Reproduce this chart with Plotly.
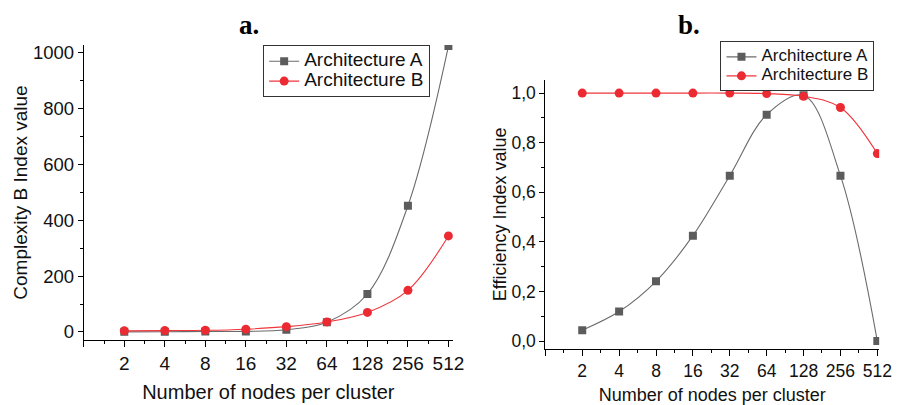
import math
import plotly.graph_objects as go

# ---- data ----
nodes = [2, 4, 8, 16, 32, 64, 128, 256, 512]
tick_labels = ["2", "4", "8", "16", "32", "64", "128", "256", "512"]

complexity_a = [0.5, 1, 1.5, 2, 8, 35, 136, 452, 1024]
complexity_b = [4, 5, 6, 10, 19, 36, 70, 149, 344]

efficiency_a = [0.044, 0.119, 0.241, 0.425, 0.667, 0.913, 0.991, 0.667, 0.0]
efficiency_b = [1.0, 1.0, 1.0, 1.0, 1.0, 0.998, 0.987, 0.942, 0.756]

name_a = "Architecture A"
name_b = "Architecture B"

GRAY_LINE = "#6b6b6b"
GRAY_MARK = "#5c5c5c"
RED_LINE = "#f0353b"
RED_MARK = "#ec2a31"
FONT = "Liberation Sans, Arial, sans-serif"
SERIF = "Liberation Serif, Times New Roman, serif"

W, H = 904, 405


def px(x):
    return x / W


def py(y):
    return 1 - y / H


def big(text, size):
    return f'<span style="font-size:{size}px">{text}</span>'


fig = go.Figure()


def add_pair(xref, yref, legend, ya_vals, yb_vals, lsize):
    fig.add_trace(go.Scatter(
        x=nodes, y=ya_vals, name=big(name_a, lsize), mode="lines+markers",
        line=dict(color=GRAY_LINE, width=1.1, shape="spline", smoothing=1.0),
        marker=dict(symbol="square", size=8, color=GRAY_MARK),
        xaxis=xref, yaxis=yref, legend=legend))
    fig.add_trace(go.Scatter(
        x=nodes, y=yb_vals, name=big(name_b, lsize), mode="lines+markers",
        line=dict(color=RED_LINE, width=1.1, shape="spline", smoothing=1.0),
        marker=dict(symbol="circle", size=9, color=RED_MARK),
        xaxis=xref, yaxis=yref, legend=legend))


add_pair("x", "y", "legend", complexity_a, complexity_b, 19)
add_pair("x2", "y2", "legend2", efficiency_a, efficiency_b, 17)

minor_x = [2 ** (k + 0.5) for k in range(9)]


def xaxis_cfg(domain, end_doublings, fsize, tsize, standoff):
    return dict(
        domain=domain, type="log",
        range=[0, end_doublings * math.log10(2)],
        tickmode="array", tickvals=[1] + nodes, ticktext=[""] + tick_labels,
        ticks="outside", ticklen=6, tickwidth=1, tickcolor="black",
        minor=dict(tickmode="array", tickvals=minor_x, ticks="outside",
                   ticklen=3, tickwidth=1, tickcolor="black", showgrid=False),
        showline=True, linecolor="black", linewidth=1, mirror=False,
        showgrid=False, zeroline=False,
        tickfont=dict(family=FONT, size=fsize, color="#111"),
        title=dict(text="Number of nodes per cluster",
                   font=dict(family=FONT, size=tsize, color="#111"), standoff=standoff),
    )


def yaxis_cfg(domain, rng, dtick, mdtick, fsize, tsize, title, standoff, fmt=None):
    d = dict(
        domain=domain, range=rng, dtick=dtick, tick0=0,
        ticks="outside", ticklen=5, tickwidth=1, tickcolor="black",
        minor=dict(dtick=mdtick, tick0=0, ticks="outside", ticklen=3,
                   tickwidth=1, tickcolor="black", showgrid=False),
        showline=True, linecolor="black", linewidth=1, mirror=False,
        showgrid=False, zeroline=False,
        tickfont=dict(family=FONT, size=fsize, color="#111"),
        title=dict(text=title, font=dict(family=FONT, size=tsize, color="#111"),
                   standoff=standoff),
    )
    if fmt:
        d["tickformat"] = fmt
    return d


fig.update_layout(
    width=W, height=H,
    margin=dict(l=0, r=0, t=0, b=0),
    paper_bgcolor="white", plot_bgcolor="white",
    separators=", ",
    hovermode=False,
    xaxis=xaxis_cfg([px(85), px(459.5)], 9.11, 19, 20, 12),
    yaxis=yaxis_cfg([py(343), py(42.7)], [-29, 1028], 200, 100, 18.5, 19,
                    "Complexity B Index value", 0),
    xaxis2=dict(xaxis_cfg([px(553.3), px(892)], 9.05, 17.5, 18, 12), anchor="y2"),
    yaxis2=dict(yaxis_cfg([py(351.7), py(78.3)], [-0.0305, 1.053], 0.2, 0.1, 17.5, 18,
                          "Efficiency Index value", 0, fmt=".1f"), anchor="x2"),
    legend=dict(x=px(267), y=py(43), xanchor="left", yanchor="top",
                bgcolor="white", bordercolor="#333", borderwidth=1,
                font=dict(family=FONT, size=13, color="#111"),
                tracegroupgap=0, itemwidth=30),
    legend2=dict(x=px(731), y=py(39), xanchor="left", yanchor="top",
                 bgcolor="white", bordercolor="#333", borderwidth=1,
                 font=dict(family=FONT, size=11.5, color="#111"),
                 tracegroupgap=0, itemwidth=30),
    showlegend=True,
    annotations=[
        dict(text="<b>a.</b>", x=px(253), y=py(22), xref="paper", yref="paper",
             xanchor="center", yanchor="middle", showarrow=False,
             font=dict(family=SERIF, size=27, color="black")),
        dict(text="<b>b.</b>", x=px(699), y=py(22), xref="paper", yref="paper",
             xanchor="center", yanchor="middle", showarrow=False,
             font=dict(family=SERIF, size=27, color="black")),
    ],
)

fig.write_html(
    "out.html",
    config={"displayModeBar": False, "staticPlot": True},
    post_script="document.body.style.margin='0';"
                "document.documentElement.style.overflow='hidden';",
)
